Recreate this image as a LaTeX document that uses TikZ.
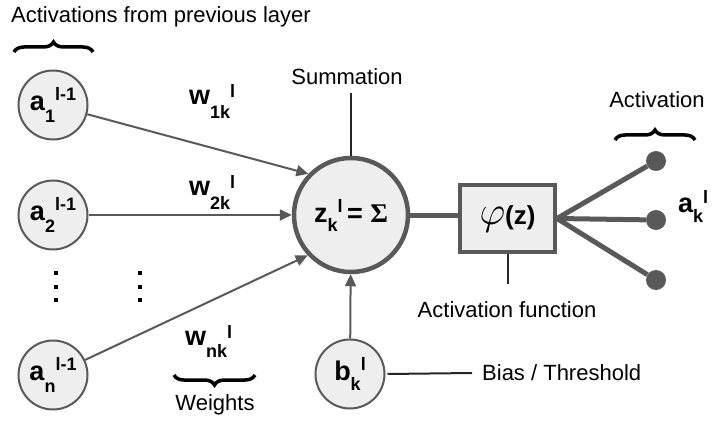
\RequirePackage{fix-cm}
\documentclass[tikz,border=0pt]{standalone}
\usepackage[no-math]{fontspec}
\setmainfont{Liberation Sans}
\newfontfamily\sigfont{Liberation Serif}
\usetikzlibrary{arrows.meta,decorations.pathreplacing}
\definecolor{stk}{HTML}{595959}
\definecolor{fil}{HTML}{EEEEEE}
\newcommand\nlab[5]{{\bfseries\fontsize{27}{27}\selectfont #1\raisebox{#4}{\fontsize{18}{18}\selectfont #2}\raisebox{#5}{\fontsize{18}{18}\selectfont #3}}}
\begin{document}
\begin{tikzpicture}[x=1pt,y=-1pt,
 neuron/.style={circle,draw=stk,fill=fil,line width=2pt,minimum size=69pt,inner sep=0pt},
 conn/.style={draw=stk,line width=2pt,-{Triangle[length=12pt,width=11pt]}},
 lbl/.style={font=\fontsize{22}{26}\selectfont,inner sep=0pt},
 lead/.style={draw=black!85,line width=2pt},
 brc/.style={decorate,decoration={brace,amplitude=10pt},line width=3.5pt},
 outl/.style={draw=stk,line width=5pt},
 dotn/.style={circle,fill=stk,minimum size=20pt,inner sep=0pt},
 wl/.style={inner sep=0pt,anchor=base west}]
\useasboundingbox (0,0) rectangle (712,425);

% inputs
\node[lbl,anchor=west] (tprev) at (11,17) {Activations from previous layer};
\draw[brc] (14,52) -- (93,52);
\node[neuron] (a1) at (53,105) {\nlab{a}{1}{l-1}{-12pt}{10pt}};
\node[neuron] (a2) at (53,215) {\nlab{a}{2}{l-1}{-12pt}{10pt}};
\node[neuron] (an) at (53,375) {\nlab{a}{n}{l-1}{-12pt}{10pt}};
\foreach \x in {54,138}{
  \fill (\x,271) rectangle ++(4,4);
  \fill (\x,285) rectangle ++(4,4);
  \fill (\x,298) rectangle ++(4,4);
}

% summation
\node[circle,draw=stk,fill=fil,line width=4.5pt,minimum size=114pt,inner sep=0pt] (sum) at (351,215)
  {\nlab{z}{k}{l}{-9pt}{10pt}{\bfseries\fontsize{27}{27}\selectfont\,= }{\sigfont\bfseries\fontsize{27}{27}\selectfont Σ}};
\node[lbl] (tsum) at (347,77) {Summation};
\draw[lead] (sum.north) -- ++(0,-63);

% weights
\node[wl] (w1) at (189,105) {\nlab{w}{1k}{l}{-14pt}{7pt}};
\node[wl] (w2) at (189,195) {\nlab{w}{2k}{l}{-14pt}{7pt}};
\node[wl] (wn) at (185,345) {\nlab{w}{nk}{l}{-12pt}{7pt}};
\draw[brc] (255,375) -- (174,375);
\node[lbl] (tw) at (215,405) {Weights};

% connectors
\draw[conn] (a1) -- (sum.136);
\draw[conn] (a2) -- (sum);
\draw[conn] (an) -- (sum.223);

% bias
\node[neuron] (b) at (350,374) {\nlab{b}{k}{l}{-10pt}{10pt}};
\draw[conn] (b) -- (sum);
\node[lbl,anchor=west] (tbias) at (482,373) {Bias / Threshold};
\draw[lead] ([xshift=2pt]b.east) -- ([xshift=-10pt]tbias.west);

% activation function
\node[rectangle,draw=stk,fill=fil,line width=4pt,minimum width=95pt,minimum height=67pt,inner sep=0pt] (phi) at (507.5,218.5)
  {{\fontsize{40}{40}\selectfont$\varphi$}{\bfseries\fontsize{26}{26}\selectfont(z)}};
\draw[outl] (sum.east) -- (sum.east -| phi.west);
\draw[lead] (phi.south) -- ++(0,30);
\node[lbl] (tact) at (507,310) {Activation function};

% outputs
\node[dotn] (o1) at (656,161) {};
\node[dotn] (o2) at (656,220) {};
\node[dotn] (o3) at (656,280) {};
\draw[outl] (phi.east) -- (o1);
\draw[outl] (phi.east) -- (o2);
\draw[outl] (phi.east) -- (o3);
\node[lbl] (tactv) at (657,100) {Activation};
\draw[brc] (615,140) -- (695,140);
\node[wl] (ak) at (678,212) {\nlab{a}{k}{l}{-10pt}{9pt}};
\end{tikzpicture}
\end{document}
